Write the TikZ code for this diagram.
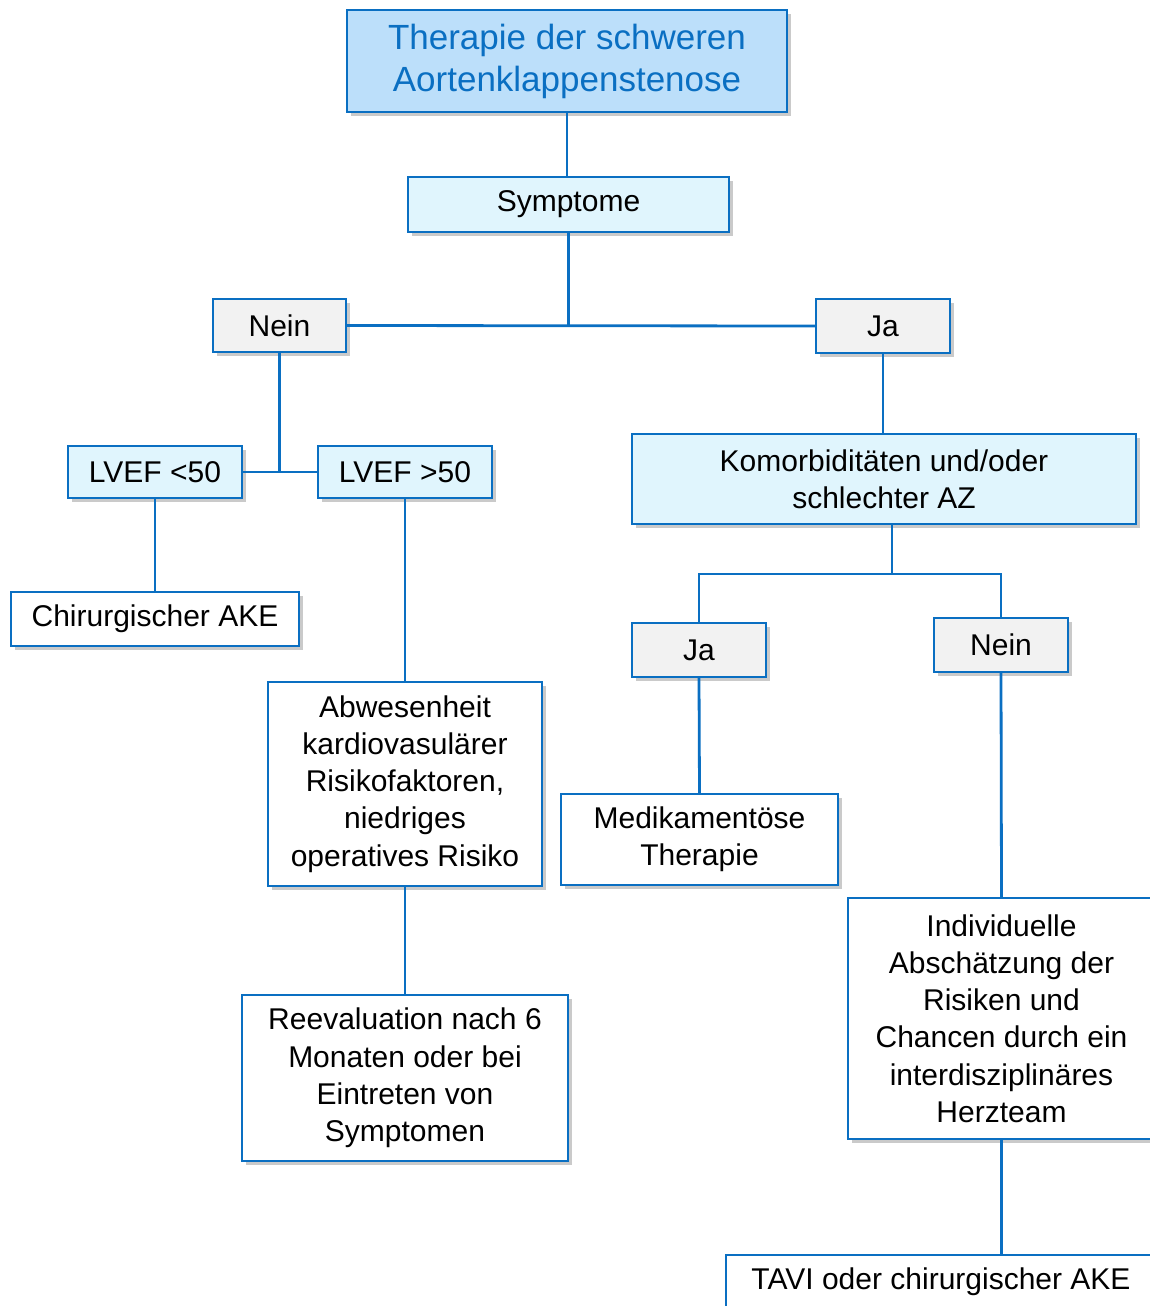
\documentclass[tikz,border=0pt]{standalone}
\usepackage{fontspec}
\setmainfont{Liberation Sans}
\usepackage{tikz}
\usetikzlibrary{shapes,positioning,calc,shadows}
\definecolor{azblue}{HTML}{0A6FC2}
\definecolor{titlefill}{HTML}{BCDFFA}
\definecolor{lightfill}{HTML}{E0F5FD}
\definecolor{greyfill}{HTML}{F2F2F2}
\tikzstyle{box} = [rectangle, draw=azblue, line width=1.1pt, fill=white, text centered, align=center, inner sep=0pt,
  font=\fontsize{15}{18.6}\selectfont, drop shadow={shadow xshift=2pt, shadow yshift=-2pt, opacity=0.35, fill=black!60}]
\tikzstyle{head} = [box, fill=titlefill, text=azblue, font=\fontsize{17.5}{21}\selectfont]
\tikzstyle{question} = [box, fill=lightfill]
\tikzstyle{answer} = [box, fill=greyfill]
\tikzstyle{link} = [draw=azblue, line width=1.4pt]

\begin{document}
\begin{tikzpicture}[x=0.5pt, y=-0.5pt]
    \useasboundingbox (0,0) rectangle (1150,1306);
    \node[head, minimum width=220pt, minimum height=51pt] (title) at (567,61) {Therapie der schweren\\Aortenklappenstenose};
    \node[question, minimum width=160.5pt, minimum height=27.5pt] (sympt) at (568.5,204.5) {Symptome};
    \node[answer, minimum width=66.5pt, minimum height=26.5pt] (nein1) at (279.5,325.5) {Nein};
    \node[answer, minimum width=67pt, minimum height=27pt] (ja1) at (883,326) {Ja};
    \node[question, minimum width=87pt, minimum height=26pt] (lvefa) at (155,472) {LVEF <50};
    \node[question, minimum width=87pt, minimum height=26pt] (lvefb) at (405,472) {LVEF >50};
    \node[question, minimum width=252pt, minimum height=45pt] (komorb) at (884,479) {Komorbiditäten und/oder\\schlechter AZ};
    \node[box, minimum width=144pt, minimum height=27pt] (chir) at (155,619) {Chirurgischer AKE};
    \node[answer, minimum width=67pt, minimum height=27pt] (ja2) at (699,650) {Ja};
    \node[answer, minimum width=67pt, minimum height=27pt] (nein2) at (1001,645) {Nein};
    \node[box, minimum width=137pt, minimum height=102pt] (abw) at (405,784) {Abwesenheit\\kardiovasulärer\\Risikofaktoren,\\niedriges\\operatives Risiko};
    \node[box, minimum width=138.5pt, minimum height=45.5pt] (medik) at (699.5,839.5) {Medikamentöse\\Therapie};
    \node[box, minimum width=153.5pt, minimum height=120.5pt] (indiv) at (1001.5,1018.5) {Individuelle\\Abschätzung der\\Risiken und\\Chancen durch ein\\interdisziplinäres\\Herzteam};
    \node[box, minimum width=163pt, minimum height=83pt] (reeval) at (405,1078) {Reevaluation nach 6\\Monaten oder bei\\Eintreten von\\Symptomen};
    \node[box, minimum width=215pt, minimum height=27pt] (tavi) at (941,1282) {TAVI oder chirurgischer AKE};
    \coordinate (split) at (892,574);

    \draw[link] (title.south) -- (title.south |- sympt.north);
    \draw[link] (sympt.south) -- (sympt.south |- nein1.east);
    \draw[link] (nein1.east) -- (ja1.west);
    \draw[link] (nein1.south) -- (nein1.south |- lvefa.east);
    \draw[link] (lvefa.east) -- (lvefb.west);
    \draw[link] (lvefa.south) -- (chir.north);
    \draw[link] (lvefb.south) -- (abw.north);
    \draw[link] (abw.south) -- (reeval.north);
    \draw[link] (ja1.south) -- (ja1.south |- komorb.north);
    \draw[link] (komorb.south -| split) -- (split);
    \draw[link] (ja2.north) |- (split) -| (nein2.north);
    \draw[link] (ja2.south) -- (medik.north);
    \draw[link] (nein2.south) -- (indiv.north);
    \draw[link] (indiv.south) -- (indiv.south |- tavi.north);
\end{tikzpicture}
\end{document}
